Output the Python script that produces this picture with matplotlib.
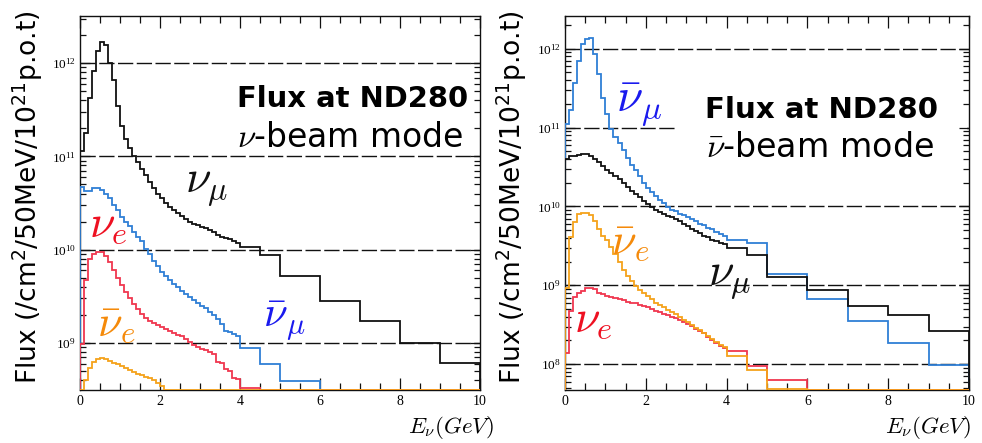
import numpy as np
import matplotlib
matplotlib.use("Agg")
import matplotlib.pyplot as plt
from matplotlib.ticker import LogLocator, FixedLocator, MultipleLocator, LogFormatterMathtext, NullFormatter
from matplotlib.patches import Rectangle
from matplotlib import font_manager

plt.rcParams["mathtext.fontset"] = "cm"

# Energy binning (GeV): 100 MeV bins up to 4 GeV, then coarse bins
bin_edges = [round(0.1 * i, 1) for i in range(41)] + [4.5, 5.0, 6.0, 7.0, 8.0, 9.0, 10.0]

# log10 of flux per bin; None = empty bin
# neutrino-beam mode
fhc_numu = [11.06, 11.25, 11.63, 11.92, 12.13, 12.23, 12.19, 12.00, 11.82, 11.54,
            11.33, 11.19, 11.09, 11.00, 10.94, 10.86, 10.80, 10.73, 10.66, 10.60,
            10.55, 10.50, 10.46, 10.42, 10.39, 10.36, 10.33, 10.30, 10.28, 10.26,
            10.24, 10.23, 10.21, 10.19, 10.16, 10.14, 10.13, 10.11, 10.09, 10.07,
            10.03, 9.94, 9.72, 9.45, 9.24, 9.00, 8.79]
fhc_numubar = [10.67, 10.63, 10.63, 10.66, 10.66, 10.645, 10.60, 10.55, 10.48, 10.42,
               10.355, 10.30, 10.25, 10.19, 10.14, 10.09, 10.01, 9.95, 9.88, 9.82,
               9.76, 9.72, 9.68, 9.63, 9.60, 9.56, 9.53, 9.49, 9.46, 9.43,
               9.40, 9.37, 9.33, 9.30, 9.26, 9.20, 9.13, 9.12, 9.10, 9.075,
               8.95, 8.77, 8.59, None, None, None, None]
fhc_nue = [8.99, 9.67, 9.90, 9.95, 9.98, 9.98, 9.93, 9.87, 9.78, 9.70,
           9.62, 9.55, 9.48, 9.42, 9.36, 9.31, 9.27, 9.24, 9.21, 9.19,
           9.17, 9.15, 9.13, 9.11, 9.09, 9.07, 9.04, 9.01, 8.98, 8.96,
           8.94, 8.92, 8.90, 8.88, 8.80, 8.79, 8.72, 8.70, 8.62, 8.61,
           8.52, None, None, None, None, None, None]
fhc_nuebar = [None, 8.60, 8.73, 8.80, 8.83, 8.84, 8.83, 8.81, 8.79, 8.77,
              8.75, 8.73, 8.71, 8.69, 8.67, 8.655, 8.64, 8.62, 8.60, 8.57,
              8.54, 8.50] + [None] * 25

# antineutrino-beam mode
rhc_numubar = [11.05, 11.22, 11.57, 11.85, 12.06, 12.12, 12.14, 11.93, 11.68, 11.38,
               11.17, 10.98, 10.88, 10.80, 10.71, 10.62, 10.53, 10.46, 10.38, 10.30,
               10.23, 10.18, 10.13, 10.08, 10.04, 9.99, 9.96, 9.94, 9.91, 9.89,
               9.86, 9.84, 9.81, 9.78, 9.76, 9.73, 9.71, 9.67, 9.65, 9.62,
               9.58, 9.53, 9.14, 8.82, 8.55, 8.27, 7.99]
rhc_numu = [10.60, 10.64, 10.64, 10.65, 10.66, 10.67, 10.64, 10.60, 10.56, 10.51,
            10.46, 10.42, 10.38, 10.35, 10.30, 10.25, 10.20, 10.16, 10.12, 10.07,
            10.03, 9.99, 9.96, 9.93, 9.91, 9.88, 9.86, 9.84, 9.81, 9.78,
            9.75, 9.72, 9.69, 9.66, 9.63, 9.61, 9.58, 9.56, 9.54, 9.52,
            9.47, 9.38, 9.11, 8.94, 8.74, 8.62, 8.42]
rhc_nuebar = [8.96, 9.61, 9.80, 9.90, 9.915, 9.915, 9.89, 9.82, 9.72, 9.63,
              9.57, 9.49, 9.40, 9.30, 9.20, 9.12, 9.05, 8.99, 8.94, 8.90,
              8.86, 8.83, 8.78, 8.75, 8.72, 8.69, 8.66, 8.63, 8.60, 8.56,
              8.53, 8.50, 8.46, 8.43, 8.40, 8.36, 8.32, 8.28, 8.24, 8.22,
              8.10, 7.92, 7.69, None, None, None, None]
rhc_nue = [8.14, 8.68, 8.85, 8.90, 8.93, 8.96, 8.96, 8.95, 8.90, 8.885,
           8.87, 8.855, 8.84, 8.82, 8.81, 8.79, 8.78, 8.77, 8.75, 8.74,
           8.72, 8.70, 8.68, 8.66, 8.64, 8.62, 8.60, 8.58, 8.56, 8.53,
           8.51, 8.48, 8.45, 8.42, 8.39, 8.35, 8.31, 8.27, 8.23, 8.21,
           8.17, 7.98, 7.80, None, None, None, None]

x_ticks = [0, 2, 4, 6, 8, 10]

BLACK = "#111111"
BLUE = "#2f7fd6"
RED = "#f0374f"
ORANGE = "#f5a21b"
LBL_BLUE = "#1a1aee"
LBL_RED = "#ee1122"
LBL_ORANGE = "#f58a0a"

W, H = 982, 443
fig = plt.figure(figsize=(W / 100, H / 100), dpi=100)
renderer = fig.canvas.get_renderer()


def has_font(name):
    try:
        font_manager.findfont(name, fallback_to_default=False)
        return True
    except Exception:
        return False


SANS = "DejaVu Sans"
NARROW = "Liberation Sans Narrow" if has_font("Liberation Sans Narrow") else SANS


def fit(text, target_px, along="width"):
    """Rescale a text's font size so its extent matches target_px."""
    for _ in range(3):
        bb = text.get_window_extent(renderer)
        cur = bb.width if along == "width" else bb.height
        text.set_fontsize(text.get_fontsize() * target_px / cur)
    return text


def px_axes(x0, x1, ytop, ybot):
    return fig.add_axes([x0 / W, 1 - ybot / H, (x1 - x0) / W, (ybot - ytop) / H])


def to_flux(logs):
    return np.array([0.0 if v is None else 10.0 ** v for v in logs])


def style_axes(ax, ymin, ymax, decades):
    ax.set_xlim(0, 10)
    ax.set_yscale("log")
    ax.set_ylim(ymin, ymax)
    ax.xaxis.set_major_locator(FixedLocator(x_ticks))
    ax.xaxis.set_minor_locator(MultipleLocator(0.5))
    ax.yaxis.set_major_locator(FixedLocator([10.0 ** d for d in decades]))
    ax.yaxis.set_major_formatter(LogFormatterMathtext())
    ax.yaxis.set_minor_locator(LogLocator(base=10, subs=np.arange(2, 10)))
    ax.yaxis.set_minor_formatter(NullFormatter())
    ax.tick_params(axis="both", which="both", direction="in", top=True, right=True,
                   color=BLACK, width=0.9)
    ax.tick_params(axis="x", which="major", length=8.5, pad=3.5)
    ax.tick_params(axis="x", which="minor", length=5)
    ax.tick_params(axis="y", which="major", length=7.5, pad=3)
    ax.tick_params(axis="y", which="minor", length=4.5)
    for lab in ax.get_xticklabels() + ax.get_yticklabels():
        lab.set_fontfamily("Liberation Serif")
    ax.tick_params(axis="x", labelsize=10)
    ax.tick_params(axis="y", labelsize=9.5)
    for s in ax.spines.values():
        s.set_linewidth(1.0)
        s.set_color(BLACK)
    for d in decades:
        ax.axhline(10.0 ** d, color=BLACK, lw=1.0, ls=(0, (11, 2.5)), zorder=1)


def draw_hist(ax, logs, color, ymin, z):
    vals = np.maximum(to_flux(logs), ymin)
    ax.stairs(vals, bin_edges, baseline=ymin, fill=False, color=color, lw=1.3, zorder=z)


def label(ax, fx, fy, s, color, size):
    ax.text(fx, fy, s, transform=ax.transAxes, fontsize=size, color=color,
            ha="left", va="baseline", zorder=6)


# ---- neutrino-beam mode ----
axL = px_axes(80, 480, 16, 390)
yminL, ymaxL = 3.13e8, 3.2e12
style_axes(axL, yminL, ymaxL, [9, 10, 11, 12])
draw_hist(axL, fhc_numu, BLACK, yminL, 3)
draw_hist(axL, fhc_numubar, BLUE, yminL, 3)
draw_hist(axL, fhc_nue, RED, yminL, 3)
draw_hist(axL, fhc_nuebar, ORANGE, yminL, 4)

t = axL.text(0.3925, 0.757, "Flux at ND280", transform=axL.transAxes, fontsize=20,
             fontfamily=SANS, fontweight="bold", ha="left", va="baseline")
fit(t, 231)
t = axL.text(0.3925, 0.65, r"$\nu$-beam mode", transform=axL.transAxes, fontsize=23,
             fontfamily=SANS, ha="left", va="baseline")
fit(t, 226)
label(axL, 0.2625, 0.529, r"$\nu_\mu$", BLACK, 33)
label(axL, 0.0225, 0.409, r"$\nu_e$", LBL_RED, 33)
label(axL, 0.4575, 0.168, r"$\bar{\nu}_\mu$", LBL_BLUE, 31)
label(axL, 0.0425, 0.147, r"$\bar{\nu}_e$", LBL_ORANGE, 32)

# ---- antineutrino-beam mode ----
axR = px_axes(565, 969, 16, 390)
yminR, ymaxR = 4.7e7, 2.6e12
style_axes(axR, yminR, ymaxR, [8, 9, 10, 11, 12])
axR.add_patch(Rectangle((0.275, 0.51), 0.72, 0.38, transform=axR.transAxes,
                        facecolor="white", edgecolor="none", zorder=1.5))
draw_hist(axR, rhc_numubar, BLUE, yminR, 3)
draw_hist(axR, rhc_numu, BLACK, yminR, 3)
draw_hist(axR, rhc_nue, RED, yminR, 3)
draw_hist(axR, rhc_nuebar, ORANGE, yminR, 4)

t = axR.text(0.3465, 0.7265, "Flux at ND280", transform=axR.transAxes, fontsize=20,
             fontfamily=SANS, fontweight="bold", ha="left", va="baseline", zorder=5)
fit(t, 233)
t = axR.text(0.35, 0.624, r"$\bar{\nu}$-beam mode", transform=axR.transAxes, fontsize=23,
             fontfamily=SANS, ha="left", va="baseline", zorder=5)
fit(t, 228)
label(axR, 0.126, 0.743, r"$\bar{\nu}_\mu$", LBL_BLUE, 34)
label(axR, 0.114, 0.366, r"$\bar{\nu}_e$", LBL_ORANGE, 32)
label(axR, 0.355, 0.281, r"$\nu_\mu$", BLACK, 33)
label(axR, 0.022, 0.155, r"$\nu_e$", LBL_RED, 33)

# axis titles
ylab = r"Flux (/cm$\mathdefault{^2}$/50MeV/10$\mathdefault{^{21}}$p.o.t)"
for xc in (28, 512):
    t = fig.text(xc / W, 1 - 197 / H, ylab, rotation=90, ha="center", va="center",
                 fontsize=24, fontfamily=NARROW)
    fit(t, 373, along="height")
for xr in (494, 971):
    fig.text(xr / W, 1 - 433 / H, r"$E_{\nu}(GeV)$", ha="right", va="baseline",
             fontsize=16.5)

fig.savefig("out.png", dpi=100)
